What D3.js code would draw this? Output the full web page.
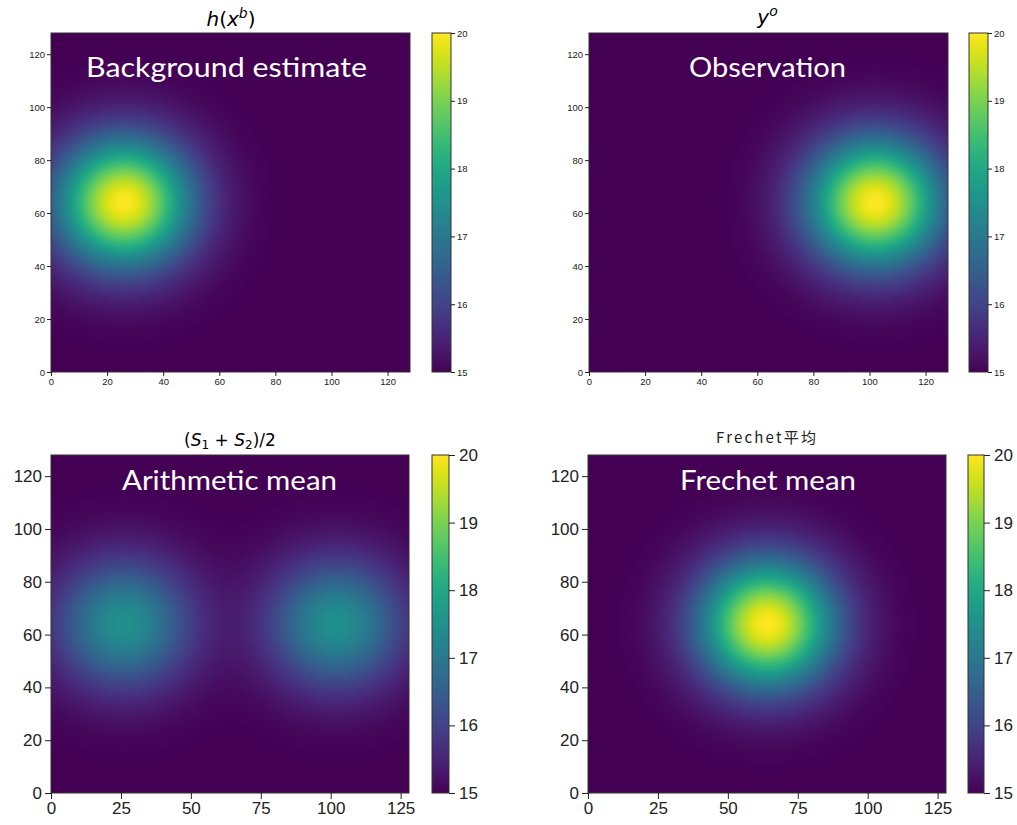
<!DOCTYPE html>
<html><head><meta charset="utf-8">
<script src="https://cdn.jsdelivr.net/npm/d3@7"></script>
<style>body{margin:0;background:#fff} svg{display:block}</style>
</head><body><svg id="chart" width="1017" height="825"></svg>
<script>
// ---------- data ----------
const gridSize = 128;            // field is 128 x 128 cells
const baseValue = 15;            // background level of every field
const blobSigma = 17;            // width of each bump (grid units)
const colorDomain = [15, 20];
const colorTicks = [15, 16, 17, 18, 19, 20];
const topAxisTicks = [0, 20, 40, 60, 80, 100, 120];
const bottomXTicks = [0, 25, 50, 75, 100, 125];
const bottomYTicks = [0, 20, 40, 60, 80, 100, 120];

// bump centres (x, y) and amplitudes for each panel
const backgroundX = [26],  backgroundY = [64],  backgroundAmp = [5];
const observationX = [102], observationY = [64], observationAmp = [5];
const arithmeticX = [26, 102], arithmeticY = [64, 64], arithmeticAmp = [2.5, 2.5];
const frechetX = [64], frechetY = [64], frechetAmp = [5];

const overlayLabels = ["Background estimate", "Observation", "Arithmetic mean", "Frechet mean"];

// ---------- layout ----------
const svg = d3.select("#chart");
const color = d3.scaleSequential(d3.interpolateViridis).domain(colorDomain);

function buildField(cx, cy, amp) {
  const vals = new Float32Array(gridSize * gridSize);
  for (let j = 0; j < gridSize; j++) {
    for (let i = 0; i < gridSize; i++) {
      let v = baseValue;
      for (let k = 0; k < cx.length; k++) {
        const dx = i + 0.5 - cx[k], dy = j + 0.5 - cy[k];
        v += amp[k] * Math.exp(-(dx * dx + dy * dy) / (2 * blobSigma * blobSigma));
      }
      vals[j * gridSize + i] = v;
    }
  }
  return vals;
}

function fieldImage(vals) {
  const cv = document.createElement("canvas");
  cv.width = gridSize; cv.height = gridSize;
  const ctx = cv.getContext("2d");
  const img = ctx.createImageData(gridSize, gridSize);
  for (let row = 0; row < gridSize; row++) {
    const j = gridSize - 1 - row; // origin lower
    for (let i = 0; i < gridSize; i++) {
      const c = d3.rgb(color(vals[j * gridSize + i]));
      const p = (row * gridSize + i) * 4;
      img.data[p] = c.r; img.data[p + 1] = c.g; img.data[p + 2] = c.b; img.data[p + 3] = 255;
    }
  }
  ctx.putImageData(img, 0, 0);
  return cv.toDataURL();
}

const panels = [
  {cx: backgroundX, cy: backgroundY, amp: backgroundAmp, label: overlayLabels[0],
   px: 51, py: 33, pw: 359, ph: 339, cbx: 432, cbw: 19, xt: topAxisTicks, yt: topAxisTicks,
   fs: 9.5, tl: 4, lblX: 226.5, lblW: 281, lblY: 77, big: false},
  {cx: observationX, cy: observationY, amp: observationAmp, label: overlayLabels[1],
   px: 589, py: 33, pw: 359, ph: 339, cbx: 969, cbw: 19, xt: topAxisTicks, yt: topAxisTicks,
   fs: 9.5, tl: 4, lblX: 767.5, lblW: 157, lblY: 77, big: false},
  {cx: arithmeticX, cy: arithmeticY, amp: arithmeticAmp, label: overlayLabels[2],
   px: 51, py: 455, pw: 358, ph: 338, cbx: 432, cbw: 17, xt: bottomXTicks, yt: bottomYTicks,
   fs: 17, tl: 6, lblX: 229.5, lblW: 215, lblY: 490, big: true},
  {cx: frechetX, cy: frechetY, amp: frechetAmp, label: overlayLabels[3],
   px: 588, py: 455, pw: 358, ph: 338, cbx: 968, cbw: 16, xt: bottomXTicks, yt: bottomYTicks,
   fs: 17, tl: 6, lblX: 768, lblW: 176, lblY: 490, big: true}
];

// gradient for colorbars
const defs = svg.append("defs");
const grad = defs.append("linearGradient").attr("id", "cbgrad")
  .attr("x1", 0).attr("y1", 1).attr("x2", 0).attr("y2", 0);
d3.range(0, 1.0001, 0.02).forEach(t => {
  grad.append("stop").attr("offset", t).attr("stop-color", color(colorDomain[0] + t * (colorDomain[1] - colorDomain[0])));
});

const tickColor = "#222";
const frameColor = "#333";

panels.forEach(p => {
  const x = d3.scaleLinear().domain([0, gridSize]).range([p.px, p.px + p.pw]);
  const y = d3.scaleLinear().domain([0, gridSize]).range([p.py + p.ph, p.py]);
  const g = svg.append("g");
  const vals = buildField(p.cx, p.cy, p.amp);
  g.append("image")
    .attr("href", fieldImage(vals))
    .attr("x", x(0)).attr("y", y(gridSize))
    .attr("width", x(gridSize) - x(0)).attr("height", y(0) - y(gridSize))
    .attr("preserveAspectRatio", "none");
  g.append("rect").attr("x", x(0)).attr("y", y(gridSize))
    .attr("width", x(gridSize) - x(0)).attr("height", y(0) - y(gridSize))
    .attr("fill", "none").attr("stroke", frameColor).attr("stroke-width", 1);

  const fontFam = "'Liberation Sans', Arial, sans-serif";
  const xa = g.append("g").attr("transform", `translate(0,${y(0)})`)
    .call(d3.axisBottom(x).tickValues(p.xt).tickSize(p.tl).tickPadding(p.big ? 3 : 2).tickFormat(d3.format("d")));
  const ya = g.append("g").attr("transform", `translate(${x(0)},0)`)
    .call(d3.axisLeft(y).tickValues(p.yt).tickSize(p.tl).tickPadding(p.big ? 3 : 2).tickFormat(d3.format("d")));
  [xa, ya].forEach(a => {
    a.select(".domain").remove();
    a.selectAll("line").attr("stroke", tickColor);
    a.selectAll("text").attr("fill", tickColor).style("font-family", fontFam).style("font-size", p.fs + "px");
  });

  // colorbar
  const cy = d3.scaleLinear().domain(colorDomain).range([p.py + p.ph, p.py]);
  g.append("rect").attr("x", p.cbx).attr("y", cy(colorDomain[1]))
    .attr("width", p.cbw).attr("height", cy(colorDomain[0]) - cy(colorDomain[1]))
    .attr("fill", "url(#cbgrad)").attr("stroke", frameColor).attr("stroke-width", 1);
  const ca = g.append("g").attr("transform", `translate(${p.cbx + p.cbw},0)`)
    .call(d3.axisRight(cy).tickValues(colorTicks).tickSize(p.tl).tickPadding(p.big ? 4 : 2).tickFormat(d3.format("d")));
  ca.select(".domain").remove();
  ca.selectAll("line").attr("stroke", tickColor);
  ca.selectAll("text").attr("fill", tickColor).style("font-family", fontFam).style("font-size", p.fs + "px");

  // overlay label
  g.append("text").attr("x", p.lblX).attr("y", p.lblY)
    .attr("text-anchor", "middle").attr("fill", "#fff")
    .attr("textLength", p.lblW).attr("lengthAdjust", "spacingAndGlyphs")
    .style("font-family", "Lato, 'Open Sans', sans-serif").style("font-size", "27px")
    .text(p.label);
});

// ---------- titles ----------
const mathFont = "'DejaVu Sans', sans-serif";
function mathTitle(cx, by, size, parts) {
  const t = svg.append("text").attr("x", cx).attr("y", by).attr("text-anchor", "middle")
    .attr("fill", "#000").style("font-family", mathFont).style("font-size", size + "px");
  parts.forEach(pt => {
    const s = t.append("tspan").text(pt.t);
    if (pt.i) s.style("font-style", "italic");
    if (pt.dy) s.attr("dy", pt.dy);
    if (pt.fs) s.style("font-size", pt.fs + "px");
  });
  return t;
}
mathTitle(231, 26, 20, [{t: "h", i: 1}, {t: "("}, {t: "x", i: 1}, {t: "b", i: 1, dy: -8, fs: 14}, {t: ")", dy: 8}]);
mathTitle(767.5, 24, 20, [{t: "y", i: 1}, {t: "o", i: 1, dy: -8, fs: 14}]);
mathTitle(230, 446, 17, [{t: "("}, {t: "S", i: 1}, {t: "1", dy: 3, fs: 12}, {t: " + ", dy: -3}, {t: "S", i: 1}, {t: "2", dy: 3, fs: 12}, {t: ")/2", dy: -3}]);
svg.append("text").attr("x", 766).attr("y", 443).attr("text-anchor", "middle")
  .attr("fill", "#222").style("font-family", "'Noto Sans CJK SC', sans-serif").style("font-size", "15px")
  .attr("textLength", 100).attr("lengthAdjust", "spacing")
  .text("Frechet平均");
</script></body></html>
